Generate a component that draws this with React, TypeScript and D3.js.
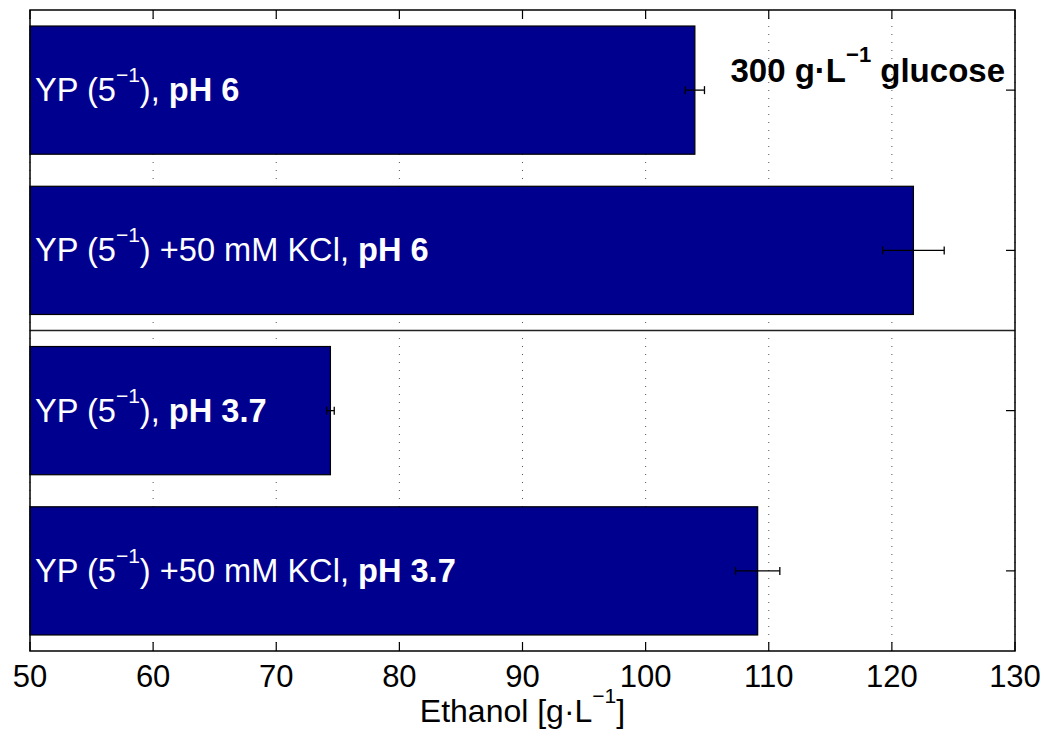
import React from "react"
import * as d3 from "d3"

// bar order top to bottom
const categories = ["YP pH 6", "YP KCl pH 6", "YP pH 3.7", "YP KCl pH 3.7"]
const mediumText = [")", ") +50 mM KCl", ")", ") +50 mM KCl"]
const phText = ["pH 6", "pH 6", "pH 3.7", "pH 3.7"]
const ethanol = [104.0, 121.75, 74.4, 109.1]
const ethanolErr = [0.78, 2.5, 0.31, 1.8]
const xTicks = [50, 60, 70, 80, 90, 100, 110, 120, 130]

const W = 1047
const H = 734
const FONT = "'Liberation Sans', Arial, Helvetica, sans-serif"

export default function App() {
    const margin = { top: 10, right: 32, bottom: 83, left: 30 }
    const width = 1015 - margin.left
    const height = 651 - margin.top

    const x = d3.scaleLinear().domain([50, 130]).range([0, width])
    const y = d3.scaleBand<string>()
        .domain(categories)
        .range([0, height])
        .paddingInner(0.2)
        .paddingOuter(0.1)

    const bw = y.bandwidth()
    // separator between pH 6 and pH 3.7 groups
    const sepY = (y(categories[1])! + bw + y(categories[2])!) / 2
    const tick = 9
    const cap = 4

    return (
        <svg width={W} height={H} style={{ display: "block", position: "absolute", left: 0, top: 0 }}>
            <rect width={W} height={H} fill="#fff" />
            <g transform={`translate(${margin.left},${margin.top})`} fontFamily={FONT}>
                {xTicks.map(t => (
                    <line key={"g" + t} x1={x(t)} x2={x(t)} y1={0} y2={height}
                        stroke="#555" strokeWidth={1} strokeDasharray="1 7" />
                ))}
                <line x1={0} x2={width} y1={sepY} y2={sepY} stroke="#222" strokeWidth={1.5} />

                {categories.map((c, i) => {
                    const y0 = y(c)!
                    const cy = y0 + bw / 2
                    return (
                        <g key={c}>
                            <rect x={x(50)} y={y0} width={x(ethanol[i]) - x(50)} height={bw}
                                fill="#00008F" stroke="#000" strokeWidth={1.2} />
                            <line x1={x(ethanol[i] - ethanolErr[i])} x2={x(ethanol[i] + ethanolErr[i])}
                                y1={cy} y2={cy} stroke="#000" strokeWidth={1.3} />
                            {[-1, 1].map(s => (
                                <line key={s} x1={x(ethanol[i] + s * ethanolErr[i])} x2={x(ethanol[i] + s * ethanolErr[i])}
                                    y1={cy - cap} y2={cy + cap} stroke="#000" strokeWidth={1.3} />
                            ))}
                            <text x={5} y={cy + 11} fill="#fff" fontSize={32.6}>
                                <tspan>YP (5</tspan>
                                <tspan dy={-19} fontSize={21}>−1</tspan>
                                <tspan dy={19}>{mediumText[i]}, </tspan>
                                <tspan fontWeight="bold">{phText[i]}</tspan>
                            </text>
                            <line x1={width - tick} x2={width} y1={cy} y2={cy} stroke="#000" strokeWidth={1.2} />
                        </g>
                    )
                })}

                {xTicks.map(t => (
                    <g key={"t" + t}>
                        <line x1={x(t)} x2={x(t)} y1={0} y2={tick} stroke="#000" strokeWidth={1.2} />
                        <line x1={x(t)} x2={x(t)} y1={height - tick} y2={height} stroke="#000" strokeWidth={1.2} />
                        <text x={x(t)} y={height + 36} textAnchor="middle" fontSize={31}>{t}</text>
                    </g>
                ))}

                <rect x={0} y={0} width={width} height={height} fill="none" stroke="#000" strokeWidth={1.5} />

                <text x={975} y={72} textAnchor="end" fontSize={33} fontWeight="bold">
                    <tspan>300 g·L</tspan>
                    <tspan dy={-20} fontSize={22}>−1</tspan>
                    <tspan dy={20}> glucose</tspan>
                </text>

                <text x={width / 2} y={height + 71} textAnchor="middle" fontSize={32}>
                    <tspan>Ethanol [g·L</tspan>
                    <tspan dy={-19} fontSize={21}>−1</tspan>
                    <tspan dy={19}>]</tspan>
                </text>
            </g>
        </svg>
    )
}
